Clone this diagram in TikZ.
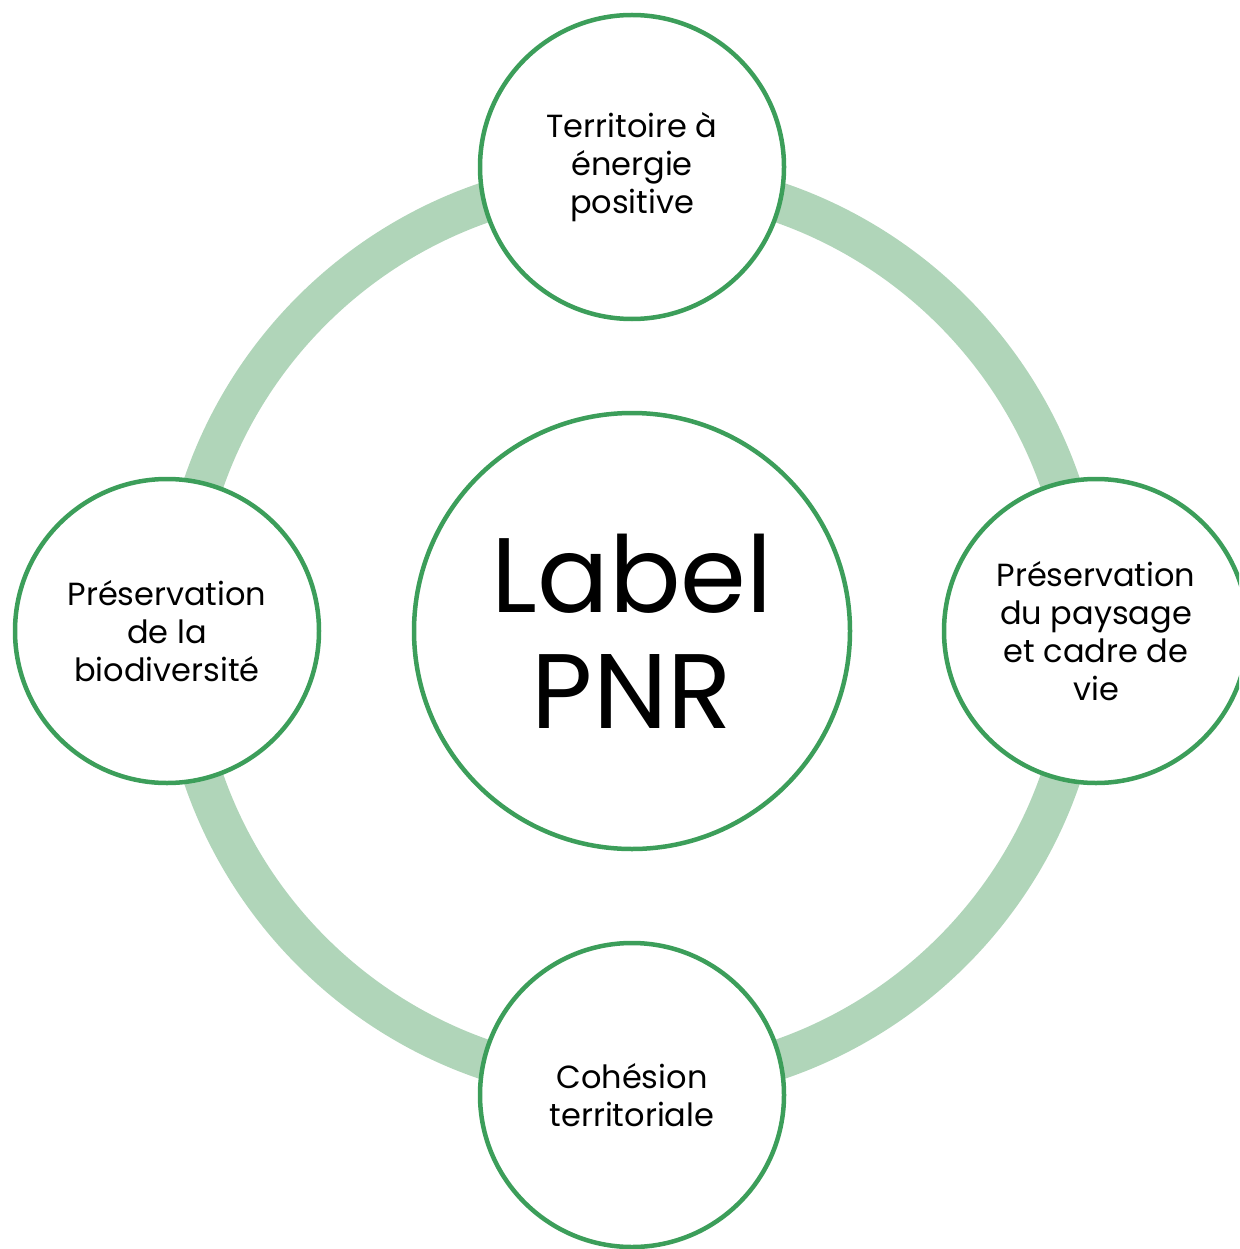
\documentclass[tikz,border=0pt]{standalone}
\usepackage{fontspec}
\setmainfont{Poppins}
\definecolor{ringgreen}{RGB}{176,213,185}
\definecolor{edgegreen}{RGB}{60,158,90}
\begin{document}
\begin{tikzpicture}[x=1pt,y=-1pt,
  sat/.style={circle,draw=edgegreen,line width=4.5pt,fill=white,minimum size=304pt,inner sep=0pt,
    align=center,font=\fontsize{32}{38}\selectfont},
  hub/.style={circle,draw=edgegreen,line width=4.5pt,fill=white,minimum size=436pt,inner sep=0pt,
    align=center,font=\fontsize{106}{116}\selectfont}]
\useasboundingbox (0,0) rectangle (1239,1249);
\clip (0,0) rectangle (1239,1249);
\coordinate (c) at (632,631);
\draw[ringgreen,line width=40pt] (c) circle[radius=453];
\node[hub] (pnr) at (c) {Label\\PNR};
\node[sat] (top) at (632,167) {Territoire à\\énergie\\positive};
\node[sat] (left) at (167,631) {Préservation\\de la\\biodiversité};
\node[sat] (right) at (1096,631) {Préservation\\du paysage\\et cadre de\\vie};
\node[sat] (bottom) at (632,1095) {Cohésion\\territoriale};
\end{tikzpicture}
\end{document}
